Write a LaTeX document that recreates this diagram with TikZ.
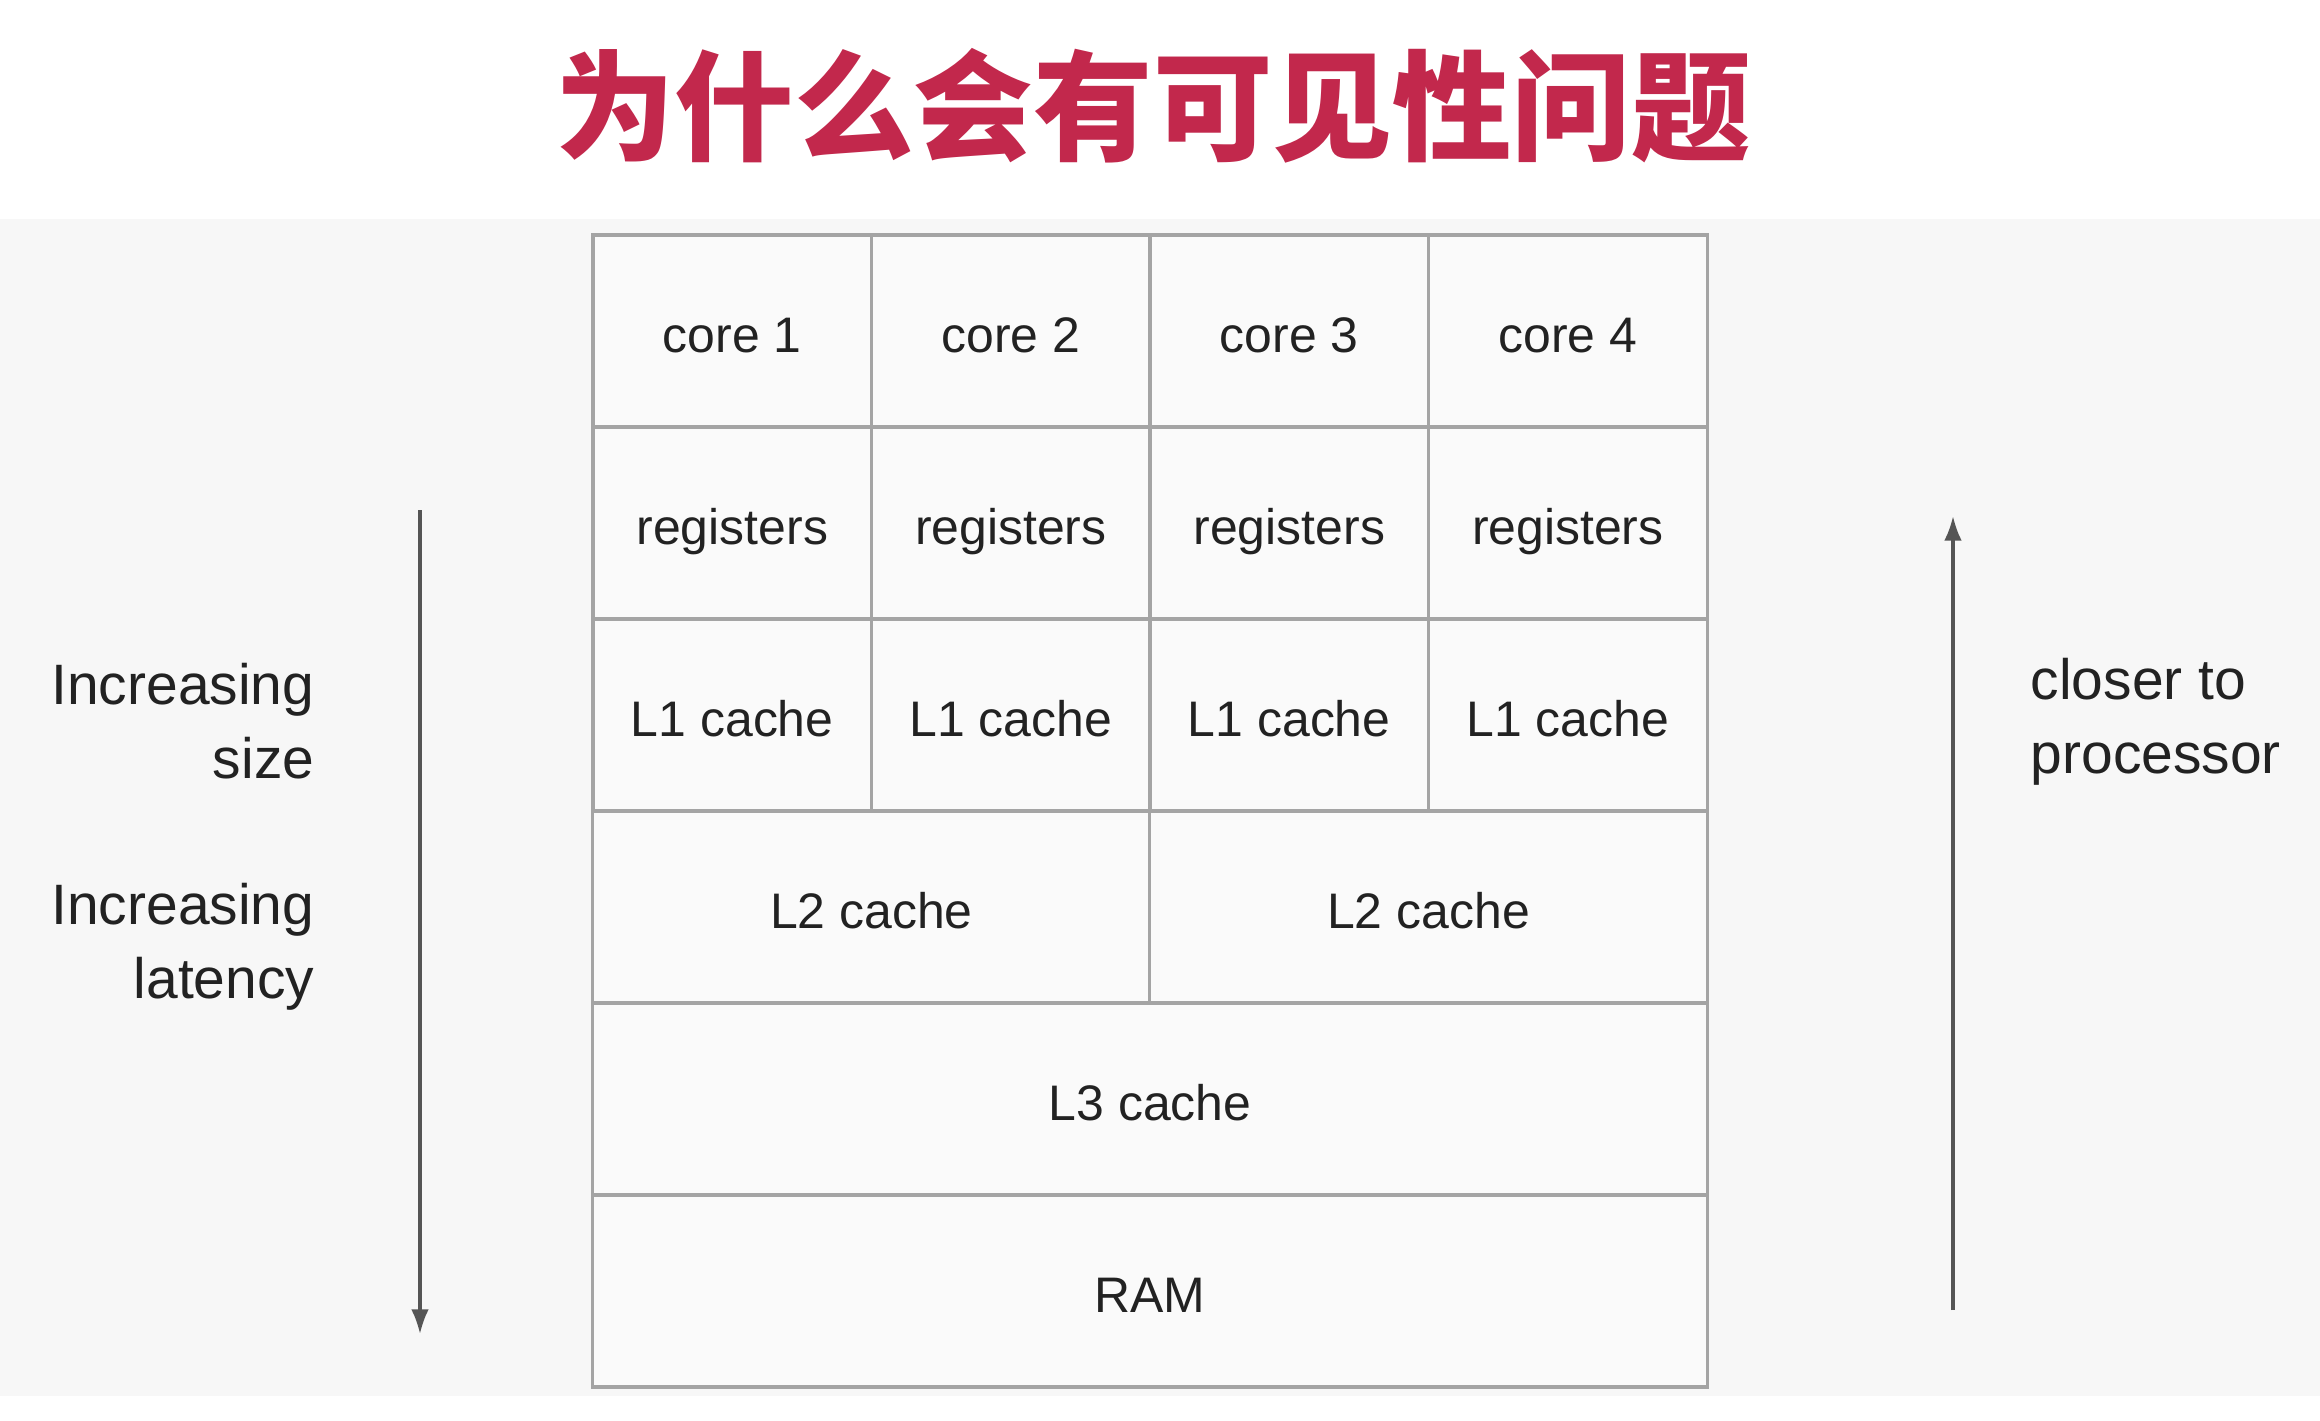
\documentclass[tikz,border=0pt]{standalone}
\usepackage{fontspec}
\setmainfont{Liberation Sans}
\newfontfamily\cjk{Noto Sans CJK SC}
\usetikzlibrary{arrows.meta}
\definecolor{titlered}{HTML}{C2284C}
\definecolor{panel}{HTML}{F7F7F7}
\definecolor{cellfill}{HTML}{FAFAFA}
\definecolor{gridline}{HTML}{A4A4A4}
\definecolor{ink}{HTML}{222222}
\definecolor{arrowgrey}{HTML}{555555}
\begin{document}
\begin{tikzpicture}[x=0.01cm,y=-0.01cm,
  cell/.style={draw=gridline, line width=0.9pt, fill=cellfill, text=ink,
    minimum height=1.92cm, inner sep=0pt, text height=0.42cm, text depth=0cm,
    font=\fontsize{14.2}{17}\selectfont},
  one/.style={cell, minimum width=2.785cm},
  two/.style={cell, minimum width=5.57cm},
  four/.style={cell, minimum width=11.14cm},
  side/.style={text=ink, inner sep=0pt, font=\fontsize{16.2}{21}\selectfont},
  axis/.style={draw=arrowgrey, line width=0.9pt, -{Latex[length=7pt,width=5pt]}}]
\useasboundingbox (0,0) rectangle (2320,1420);
\fill[white] (0,0) rectangle (2320,1420);
\fill[panel] (0,219) rectangle (2320,1396);
% title
\node[text=titlered, inner sep=0pt, font={\cjk\bfseries\fontsize{34}{38}\selectfont}] (title) at (1153,106) {为什么会有可见性问题};
% grid
\node[one] (c1) at (732.25,331) {core 1};
\node[one] (c2) at (1010.75,331) {core 2};
\node[one] (c3) at (1289.25,331) {core 3};
\node[one] (c4) at (1567.75,331) {core 4};
\node[one] (r1) at (732.25,523) {registers};
\node[one] (r2) at (1010.75,523) {registers};
\node[one] (r3) at (1289.25,523) {registers};
\node[one] (r4) at (1567.75,523) {registers};
\node[one] (la) at (732.25,715) {L1 cache};
\node[one] (lb) at (1010.75,715) {L1 cache};
\node[one] (lc) at (1289.25,715) {L1 cache};
\node[one] (ld) at (1567.75,715) {L1 cache};
\node[two] (ma) at (871.5,907) {L2 cache};
\node[two] (mb) at (1428.5,907) {L2 cache};
\node[four] (l3) at (1150,1099) {L3 cache};
\node[four] (ram) at (1150,1291) {RAM};
% arrows
\coordinate (dtop) at (420,510);
\coordinate (dbot) at (420,1334);
\coordinate (ubot) at (1953,1310);
\coordinate (utop) at (1953,516);
\draw[axis] (dtop) -- (dbot);
\draw[axis] (ubot) -- (utop);
% side labels
\node[side, align=right, anchor=east] (size) at (315,721) {Increasing\\size};
\node[side, align=right, anchor=east] (lat) at (315,947) {Increasing\\latency};
\node[side, align=left, anchor=west] (closer) at (2030,722) {closer to\\processor};
\end{tikzpicture}
\end{document}
